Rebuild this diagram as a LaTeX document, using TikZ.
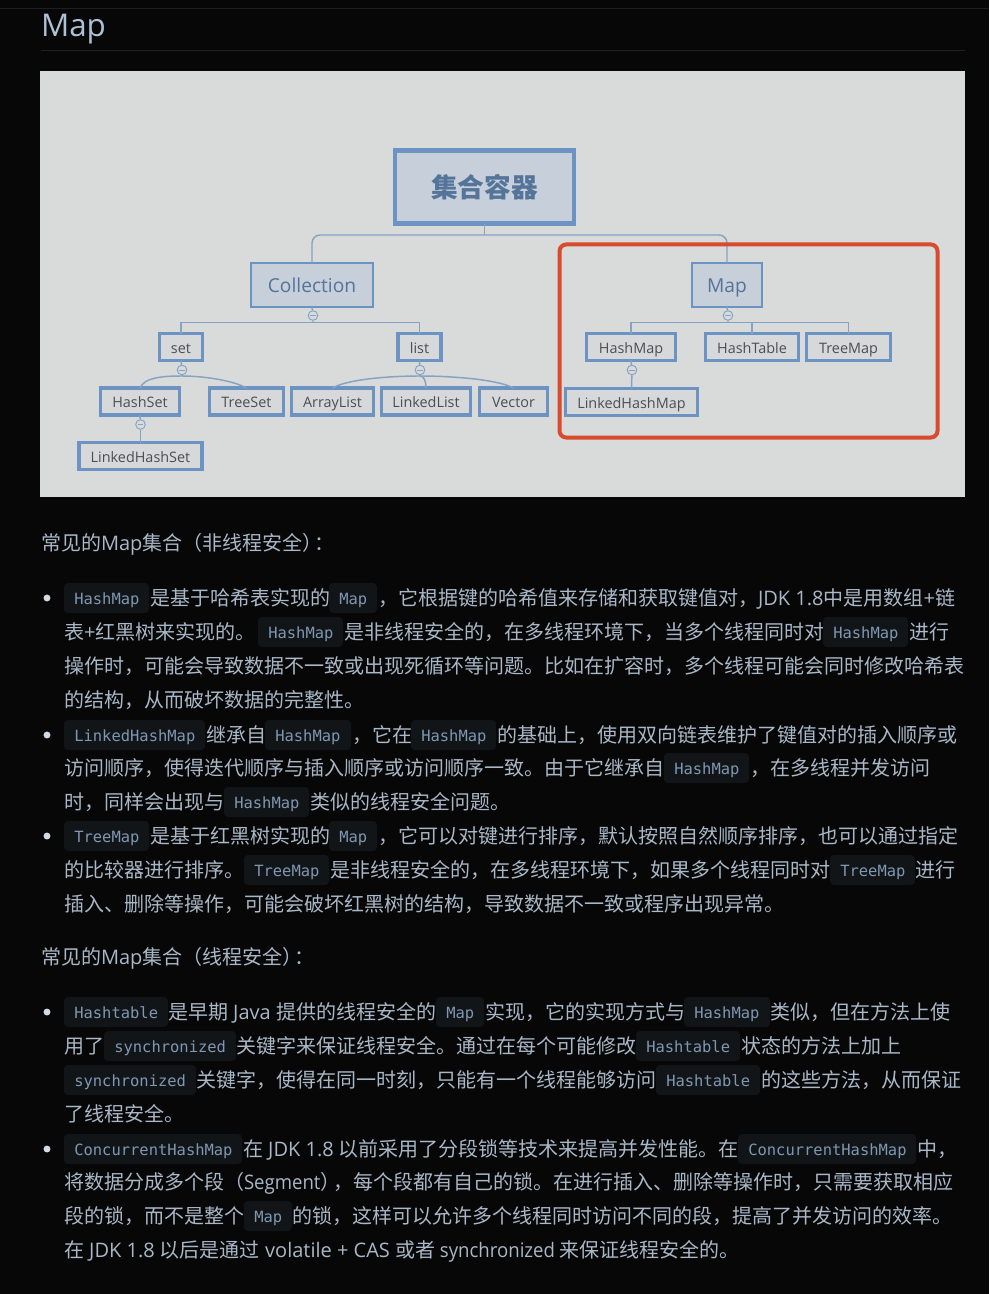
\documentclass[tikz,border=0pt]{standalone}
\usepackage{fontspec}
\setmainfont{Noto Sans CJK SC}
\newfontfamily\codefont{DejaVu Sans Mono}
\newfontfamily\diafont{Open Sans}
\newfontfamily\dianarrow[FakeStretch=0.93]{Open Sans}
\newcommand{\lat}[1]{{\diafont #1}}
\newcommand{\latn}[1]{{\dianarrow #1}}
\newcommand{\hwclose}{\makebox[9.4pt][l]{）}}
\definecolor{pagebg}{HTML}{070708}
\definecolor{bodytxt}{HTML}{A9B7C6}
\definecolor{titletxt}{HTML}{AEC0D6}
\definecolor{codetxt}{HTML}{7F97B2}
\definecolor{codebg}{HTML}{121518}
\definecolor{rulecol}{HTML}{1E1F21}
\definecolor{imgbg}{HTML}{D9DADA}
\definecolor{nodefill}{HTML}{C6CFDA}
\definecolor{leaffill}{HTML}{D6D8DA}
\definecolor{nodeline}{HTML}{6D93C3}
\definecolor{nodetxt}{HTML}{54749A}
\definecolor{leaftxt}{HTML}{4A4F55}
\definecolor{linkcol}{HTML}{86A3C4}
\definecolor{redbox}{HTML}{D84B2E}
\definecolor{bulletcol}{HTML}{D3DBE6}
\tikzset{
  seg/.style={anchor=base west,inner sep=0pt,outer sep=0pt,text=bodytxt,font=\fontsize{15}{15}\selectfont},
  codeback/.style={fill=codebg,rounded corners=3pt,inner sep=0pt,minimum height=22.5pt},
  codetext/.style={anchor=base west,inner sep=0pt,text=codetxt,font=\codefont\fontsize{11.6}{11.6}\selectfont},
  diabox/.style={draw=nodeline,inner sep=0pt,outer sep=0pt},
  rootbox/.style={diabox,line width=3.4pt,fill=nodefill,text=nodetxt,font=\fontsize{20}{20}\selectfont\bfseries},
  midbox/.style={diabox,line width=1.9pt,fill=nodefill,text=nodetxt,text height=12pt,text depth=.4pt,font=\diafont\fontsize{14.4}{14.4}\selectfont},
  leafbox/.style={diabox,line width=2.6pt,fill=leaffill,text=leaftxt,text height=10pt,text depth=.6pt,font=\diafont\fontsize{10.8}{10.8}\selectfont},
  link/.style={draw=linkcol,line width=1.1pt},
  toggle/.style={circle,draw=linkcol,line width=.7pt,fill=imgbg,minimum size=7.2pt,inner sep=0pt,
    path picture={\draw[linkcol,line width=.5pt] ([xshift=-2pt]path picture bounding box.center) -- ([xshift=2pt]path picture bounding box.center);}},
  dot/.style={circle,fill=bulletcol,minimum size=5.2pt,inner sep=0pt},
}
\newcount\segno
\newcommand{\seg}[3]{\global\advance\segno by 1
  \node[seg] (s\the\segno) at (#1,#2+7) {#3};}
\newcommand{\cod}[4]{\global\advance\segno by 1
  \node[codeback,minimum width={(#2-#1)*0.75pt}] (b\the\segno) at ({(#1+#2)/2},#3) {};
  \node[codetext] (c\the\segno) at (#1+10,#3+6.5) {#4};}
\begin{document}
\begin{tikzpicture}[x=0.75pt,y=-0.75pt]
\path[use as bounding box,fill=pagebg] (0,0) rectangle (989,1294);
\draw[rulecol,line width=.75pt] (0,8.5) -- (989,8.5);
\node[seg,text=titletxt,font=\diafont\fontsize{23.5}{23.5}\selectfont] (title) at (41,37) {Map};
\draw[rulecol,line width=.75pt] (41,50.5) -- (965,50.5);
\fill[imgbg] (40,71) rectangle (965,497);

% diagram nodes
\node[rootbox,minimum width=134pt,minimum height=55pt] (root) at (484.5,187) {集合容器};
\node[midbox,minimum width=91.5pt,minimum height=33pt] (coll) at (312,285) {Collection};
\node[midbox,minimum width=52.5pt,minimum height=33pt] (map) at (727,285) {Map};
\node[leafbox,minimum width=32.5pt,minimum height=20pt] (set) at (181,347) {set};
\node[leafbox,minimum width=32pt,minimum height=20pt] (list) at (419.5,347) {list};
\node[leafbox,minimum width=59pt,minimum height=20pt] (hashset) at (140,401.5) {HashSet};
\node[leafbox,minimum width=55.5pt,minimum height=20pt] (treeset) at (246.5,401.5) {TreeSet};
\node[leafbox,minimum width=61.5pt,minimum height=20pt] (arraylist) at (332.5,401.5) {ArrayList};
\node[leafbox,minimum width=67pt,minimum height=20pt] (linkedlist) at (426,401.5) {LinkedList};
\node[leafbox,minimum width=51pt,minimum height=20pt] (vector) at (513.5,401.5) {Vector};
\node[leafbox,minimum width=92pt,minimum height=20pt] (linkedhashset) at (140.5,456) {LinkedHashSet};
\node[leafbox,minimum width=67pt,minimum height=20pt] (hashmap) at (631,347) {HashMap};
\node[leafbox,minimum width=70pt,minimum height=20pt] (hashtable) at (752,347) {HashTable};
\node[leafbox,minimum width=63pt,minimum height=20pt] (treemap) at (848.5,347) {TreeMap};
\node[leafbox,minimum width=99pt,minimum height=20pt] (linkedhashmap) at (631.5,402) {LinkedHashMap};

% toggles
\node[toggle] (tcoll) at (313,315.5) {};
\node[toggle] (tmap) at (728,315.5) {};
\node[toggle] (tset) at (182,370) {};
\node[toggle] (tlist) at (420,370) {};
\node[toggle] (thashset) at (140.5,424.5) {};
\node[toggle] (thashmap) at (632,370) {};
\coordinate (rootbus) at (root.south |- 0,235);
\coordinate (collbus) at (313,322.5);
\coordinate (mapbus) at (728,322.5);
\coordinate (setarc) at (182,376);
\coordinate (listarc) at (420,376);

% connectors
\draw[link] (root.south) -- (rootbus);
\draw[link,rounded corners=6pt] (coll.north) |- (rootbus) -| (map.north);
\draw[link] (coll.south) -- (tcoll) (tcoll) -- (collbus);
\draw[link] (set.north) |- (collbus) -| (list.north);
\draw[link] (map.south) -- (tmap) (tmap) -- (mapbus);
\draw[link] (hashmap.north) |- (mapbus) -| (treemap.north);
\draw[link] (hashtable.north) -- (hashtable.north |- mapbus);
\draw[link] (set.south) -- (tset);
\draw[link] (tset) -- (setarc);
\draw[link] (setarc) .. controls (160,376) and (144,378) .. (hashset.north);
\draw[link] (setarc) .. controls (205,376) and (235,381) .. (treeset.north);
\draw[link] (list.south) -- (tlist);
\draw[link] (tlist) -- (listarc);
\draw[link] (listarc) .. controls (385,376) and (345,380) .. (arraylist.north);
\draw[link] (listarc) .. controls (424,376) and (426,381) .. (linkedlist.north);
\draw[link] (listarc) .. controls (455,376) and (500,380) .. (vector.north);
\draw[link] (hashset.south) -- (thashset);
\draw[link] (thashset) -- (linkedhashset.north);
\draw[link] (hashmap.south) -- (thashmap);
\draw[link] (thashmap) -- (linkedhashmap.north);
\draw[redbox,line width=3pt,rounded corners=5pt] (559.5,244.5) rectangle (937.5,437.5);

% body text
\seg{41}{543}{常见的\lat{Map}集合（非线程安全\hwclose ：}
\node[dot] (d1) at (47,598) {};
\cod{64}{149}{598}{HashMap}\seg{150}{598}{是基于哈希表实现的}\cod{329}{377}{598}{Map}\seg{378}{598}{，它根据键的哈希值来存储和获取键值对，\lat{JDK 1.8}中是用数组\lat{+}链}
\seg{64}{632}{表\lat{+}红黑树来实现的。}\cod{258}{343}{632}{HashMap}\seg{344}{632}{是非线程安全的，在多线程环境下，当多个线程同时对}\cod{823}{908}{632}{HashMap}\seg{909}{632}{进行}
\seg{64}{666}{操作时，可能会导致数据不一致或出现死循环等问题。比如在扩容时，多个线程可能会同时修改哈希表}
\seg{64}{700}{的结构，从而破坏数据的完整性。}
\node[dot] (d2) at (47,735) {};
\cod{64}{205}{735}{LinkedHashMap}\seg{206}{735}{继承自}\cod{265}{351}{735}{HashMap}\seg{352}{735}{，它在}\cod{411}{496}{735}{HashMap}\seg{497}{735}{的基础上，使用双向链表维护了键值对的插入顺序或}
\seg{64}{768}{访问顺序，使得迭代顺序与插入顺序或访问顺序一致。由于它继承自}\cod{664}{749}{768}{HashMap}\seg{750}{768}{，在多线程并发访问}
\seg{64}{802}{时，同样会出现与}\cod{224}{309}{802}{HashMap}\seg{310}{802}{类似的线程安全问题。}
\node[dot] (d3) at (47,836) {};
\cod{64}{149}{836}{TreeMap}\seg{150}{836}{是基于红黑树实现的}\cod{329}{377}{836}{Map}\seg{378}{836}{，它可以对键进行排序，默认按照自然顺序排序，也可以通过指定}
\seg{64}{870}{的比较器进行排序。}\cod{244}{329}{870}{TreeMap}\seg{330}{870}{是非线程安全的，在多线程环境下，如果多个线程同时对}\cod{830}{915}{870}{TreeMap}\seg{915}{870}{进行}
\seg{64}{904}{插入、删除等操作，可能会破坏红黑树的结构，导致数据不一致或程序出现异常。}
\seg{41}{957}{常见的\lat{Map}集合（线程安全\hwclose ：}
\node[dot] (d4) at (47,1012) {};
\cod{64}{168}{1012}{Hashtable}\seg{168}{1012}{是早期\lat{ Java }提供的线程安全的}\cod{436}{484}{1012}{Map}\seg{485}{1012}{实现，它的实现方式与}\cod{684}{770}{1012}{HashMap}\seg{770}{1012}{类似，但在方法上使}
\seg{64}{1046}{用了}\cod{104}{236}{1046}{synchronized}\seg{236}{1046}{关键字来保证线程安全。通过在每个可能修改}\cod{636}{740}{1046}{Hashtable}\seg{741}{1046}{状态的方法上加上}
\cod{64}{196}{1080}{synchronized}\seg{196}{1080}{关键字，使得在同一时刻，只能有一个线程能够访问}\cod{656}{760}{1080}{Hashtable}\seg{761}{1080}{的这些方法，从而保证}
\seg{64}{1114}{了线程安全。}
\node[dot] (d5) at (47,1149) {};
\cod{64}{242}{1149}{ConcurrentHashMap}\seg{243}{1149}{在\lat{ JDK 1.8 }以前采用了分段锁等技术来提高并发性能。在}\cod{738}{916}{1149}{ConcurrentHashMap}\seg{917}{1149}{中，}
\seg{64}{1182}{将数据分成多个段（\latn{Segment}\hwclose ，每个段都有自己的锁。在进行插入、删除等操作时，只需要获取相应}
\seg{64}{1216}{段的锁，而不是整个}\cod{244}{292}{1216}{Map}\seg{292}{1216}{的锁，这样可以允许多个线程同时访问不同的段，提高了并发访问的效率。}
\seg{64}{1250}{在\lat{ JDK 1.8 }以后是通过\lat{ volatile + CAS }或者\latn{ synchronized }来保证线程安全的。}
\end{tikzpicture}
\end{document}
